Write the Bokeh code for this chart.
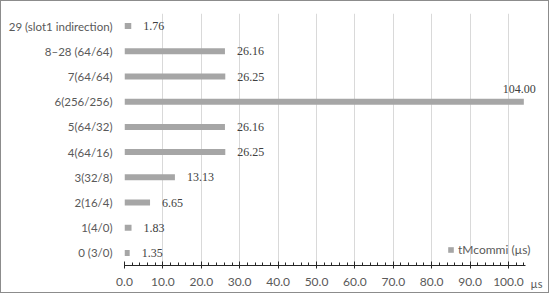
from bokeh.plotting import figure
from bokeh.models import (ColumnDataSource, Range1d, FactorRange, NumeralTickFormatter,
                          SingleIntervalTicker, LabelSet, Legend, LegendItem)
from bokeh.embed import file_html
from bokeh.resources import INLINE

categories = ["0 (3/0)", "1(4/0)", "2(16/4)", "3(32/8)", "4(64/16)", "5(64/32)",
              "6(256/256)", "7(64/64)", "8\u201328 (64/64)", "29 (slot1 indirection)"]
values = [1.35, 1.83, 6.65, 13.13, 26.25, 26.16, 104.00, 26.25, 26.16, 1.76]
series_name = "tMcommi (\u00b5s)"
unit_label = "\u00b5s"
axis_end = 104.5

FONT = "Lato"
BAR = "#a6a6a6"
TXT = "#404040"
GREY = "#595959"

p = figure(y_range=FactorRange(*categories, range_padding=0),
           x_range=Range1d(0, 107.3),
           frame_width=412, frame_height=252,
           min_border_left=123, min_border_right=12, min_border_top=12, min_border_bottom=8,
           output_backend="svg", toolbar_location=None)
p.styles = {"border": "1px solid #8c8c8c", "box-sizing": "border-box"}
p.outline_line_color = None

src = ColumnDataSource(dict(cat=categories, val=values))
r = p.hbar(y="cat", right="val", left=0, height=0.24, source=src,
           fill_color=BAR, line_color=None)

inside = [i for i, v in enumerate(values) if v < 100]
outside = [i for i, v in enumerate(values) if v >= 100]
s_in = ColumnDataSource(dict(cat=[categories[i] for i in inside],
                             val=[values[i] for i in inside],
                             lab=["%.2f" % values[i] for i in inside]))
s_out = ColumnDataSource(dict(cat=[categories[i] for i in outside],
                              val=[values[i] for i in outside],
                              lab=["%.2f" % values[i] for i in outside]))
p.add_layout(LabelSet(x="val", y="cat", text="lab", source=s_in, x_offset=12,
                      text_baseline="middle", text_align="left", text_font=FONT,
                      text_font_size="12px", text_color=TXT))
p.add_layout(LabelSet(x="val", y="cat", text="lab", source=s_out, x_offset=12, y_offset=13,
                      text_baseline="middle", text_align="right", text_font=FONT,
                      text_font_size="12px", text_color=TXT))

p.ygrid.grid_line_color = None
p.xgrid.grid_line_color = "#d9d9d9"
p.xgrid.ticker = SingleIntervalTicker(interval=10, num_minor_ticks=5)
p.xgrid.bounds = (0, axis_end)

xa = p.xaxis[0]
xa.bounds = (0, axis_end)
xa.ticker = SingleIntervalTicker(interval=10, num_minor_ticks=5)
xa.formatter = NumeralTickFormatter(format="0.0")
xa.axis_line_color = "#262626"
xa.major_tick_line_color = "#262626"
xa.minor_tick_line_color = "#262626"
xa.major_tick_in = 4
xa.major_tick_out = 3
xa.minor_tick_in = 3
xa.minor_tick_out = 0
xa.major_label_text_font = FONT
xa.major_label_text_font_size = "12px"
xa.major_label_text_color = GREY
xa.major_label_standoff = 9
xa.axis_label = unit_label
xa.axis_label_align = "end"
xa.axis_label_text_align = "right"
xa.axis_label_standoff = -12
xa.axis_label_text_font = FONT
xa.axis_label_text_font_style = "normal"
xa.axis_label_text_font_size = "11px"
xa.axis_label_text_color = GREY

ya = p.yaxis[0]
ya.axis_line_color = None
ya.major_tick_line_color = None
ya.minor_tick_line_color = None
ya.major_tick_in = 0
ya.major_tick_out = 0
ya.minor_tick_in = 0
ya.minor_tick_out = 0
ya.major_label_text_font = FONT
ya.major_label_text_font_size = "11.5px"
ya.major_label_text_color = GREY
ya.major_label_standoff = 12

legend = Legend(items=[LegendItem(label=series_name, renderers=[r])],
                location=(323, 8), background_fill_alpha=0,
                border_line_color=None, glyph_width=7, glyph_height=7,
                label_text_font=FONT, label_text_font_size="12px",
                label_text_color=GREY, padding=2, margin=0, spacing=0,
                label_standoff=4)
p.add_layout(legend)

open("out.html", "w").write(file_html(p, INLINE))
